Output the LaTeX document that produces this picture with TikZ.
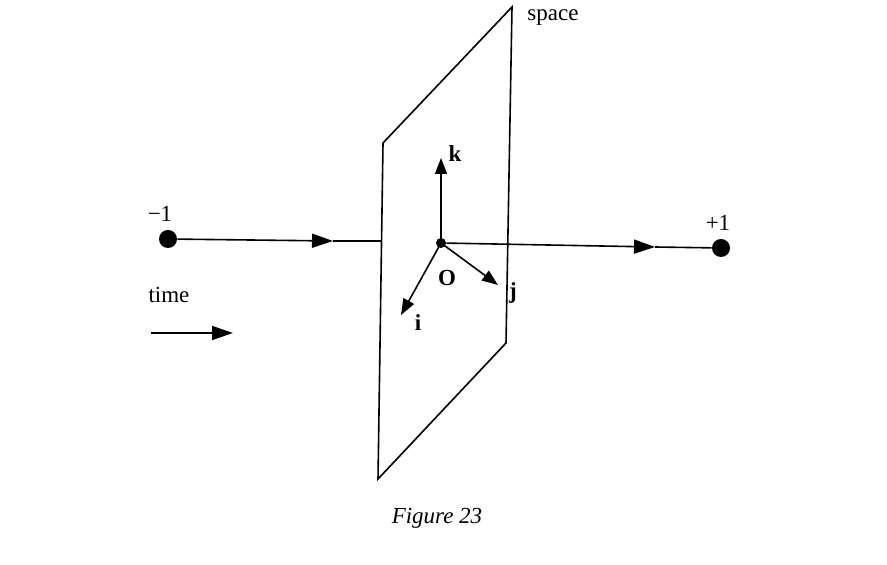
\documentclass[tikz,border=0pt]{standalone}
\usepackage{fontspec}
\setmainfont{Liberation Serif}
\usetikzlibrary{arrows.meta}

\begin{document}
\begin{tikzpicture}[x=0.5pt, y=-0.5pt,
  every node/.style={font=\fontsize{11.5}{14}\selectfont},
  event/.style={circle, fill=black, inner sep=0pt, minimum size=9pt},
  origin/.style={circle, fill=black, inner sep=0pt, minimum size=5pt},
  flow/.style={-{Triangle[length=10.5pt, width=7pt]}, line width=0.8pt},
  axis/.style={-{Triangle[length=8pt, width=6pt]}, line width=0.8pt},
  plane/.style={line width=0.8pt},
  vec/.style={font=\fontsize{11.5}{14}\selectfont\bfseries, inner sep=1pt},
]
\useasboundingbox (0,0) rectangle (887,565);

% The plane of space
\coordinate (pTL) at (383,143);
\coordinate (pTR) at (512,7);
\coordinate (pBR) at (506,343);
\coordinate (pBL) at (378,479);
\draw[plane] (pTL) -- (pTR) -- (pBR) -- (pBL) -- cycle;
\node (space) at (553,18) {space};

% Events
\node[event]  (past)   at (168,239) {};
\node[event]  (future) at (721,248) {};
\node[origin] (O)      at (441,243) {};
\node (minus) at (160,214) {−1};
\node (plus)  at (718,223) {+1};

% Time line through the plane
\coordinate (tipL)  at (333,241);
\coordinate (edgeL) at (381.5,241);
\coordinate (tipR)  at (655,247);
\draw[flow]  (past) -- (tipL);
\draw[plane] (tipL) -- (edgeL);
\draw[flow]  (O) -- (tipR);
\draw[plane] (tipR) -- (future);

% Axes at O
\coordinate (kend) at (441,158);
\coordinate (jend) at (498,285);
\coordinate (iend) at (401,315);
\draw[axis] (O.center) -- (kend);
\draw[axis] (O.center) -- (jend);
\draw[axis] (O.center) -- (iend);
\node[vec] (klbl) at (455,154) {k};
\node[vec] (jlbl) at (513,293) {j};
\node[vec] (ilbl) at (418,323) {i};
\node[vec] (Olbl) at (447,278) {O};

% Direction of time
\node (time) at (169,295) {time};
\coordinate (tstart) at (151,333);
\coordinate (tend)   at (233,333);
\draw[flow] (tstart) -- (tend);

\node (caption) at (437,518) {\itshape Figure 23};
\end{tikzpicture}
\end{document}
